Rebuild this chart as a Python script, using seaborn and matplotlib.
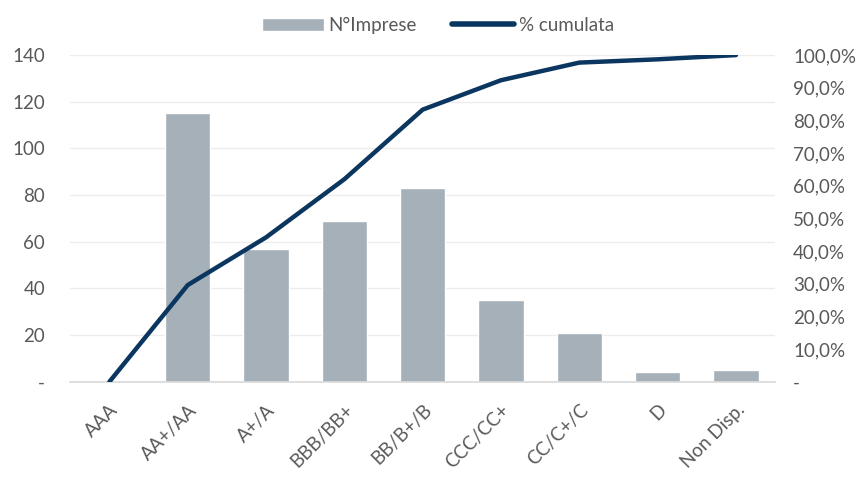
import numpy as np
import pandas as pd
import matplotlib.pyplot as plt
import seaborn as sns
from matplotlib.ticker import FuncFormatter
from matplotlib.patches import Patch
from matplotlib.lines import Line2D

# Dati
classi = ['AAA', 'AA+/AA', 'A+/A', 'BBB/BB+', 'BB/B+/B', 'CCC/CC+', 'CC/C+/C', 'D', 'Non Disp.']
n_imprese = [0, 115, 57, 69, 83, 35, 21, 4, 5]
cumulata = [0.0, 29.6, 44.2, 62.0, 83.3, 92.3, 97.7, 98.7, 100.0]

col_barre = '#a5b0b8'
col_linea = '#0b3660'
col_testo = '#595959'

sns.set_style('white')
plt.rcParams['font.family'] = ['Lato', 'DejaVu Sans']

df = pd.DataFrame({'classe': classi, 'n': n_imprese, 'cum': cumulata})

fig, ax = plt.subplots(figsize=(8.67, 4.79), dpi=100)
fig.subplots_adjust(left=0.081, right=0.894, top=0.885, bottom=0.203)

sns.barplot(data=df, x='classe', y='n', color=col_barre, width=0.58,
            saturation=1, ax=ax, zorder=2)
ax.set_ylim(0, 140)
ax.set_yticks(np.arange(0, 141, 20))
ax.yaxis.set_major_formatter(FuncFormatter(lambda v, p: '-' if v == 0 else f'{v:.0f}'))
ax.grid(axis='y', color='#ececec', linewidth=1, zorder=0)
ax.set_xlabel('')
ax.set_ylabel('')

ax2 = ax.twinx()
sns.lineplot(x=np.arange(len(classi)), y=df['cum'], color=col_linea,
             linewidth=3.2, ax=ax2, zorder=3)
ax2.set_ylim(0, 100)
ax2.set_yticks(np.arange(0, 101, 10))
ax2.yaxis.set_major_formatter(FuncFormatter(
    lambda v, p: '-' if v == 0 else f'{v:.1f}%'.replace('.', ',')))
ax2.set_ylabel('')
ax.set_xlim(-0.5, len(classi) - 0.5)

for a in (ax, ax2):
    for s in a.spines.values():
        s.set_visible(False)
    a.tick_params(axis='both', length=0, labelsize=13.5, colors=col_testo)
ax.tick_params(axis='y', pad=18)
ax2.tick_params(axis='y', pad=13)
ax.spines['bottom'].set_visible(True)
ax.spines['bottom'].set_color('#d9d9d9')
ax.spines['bottom'].set_linewidth(1.2)

ax.tick_params(axis='x', pad=14)
plt.setp(ax.get_xticklabels(), rotation=45, ha='right', rotation_mode='anchor')

handles = [Patch(facecolor=col_barre, label='N°Imprese'),
           Line2D([0], [0], color=col_linea, linewidth=4, label='% cumulata')]
fig.legend(handles=handles, loc='upper center', bbox_to_anchor=(0.505, 1.0),
           ncol=2, frameon=False, fontsize=13.5, labelcolor=col_testo,
           handlelength=3.3, handletextpad=0.25, columnspacing=1.9)

plt.savefig('out.png', dpi=100)
